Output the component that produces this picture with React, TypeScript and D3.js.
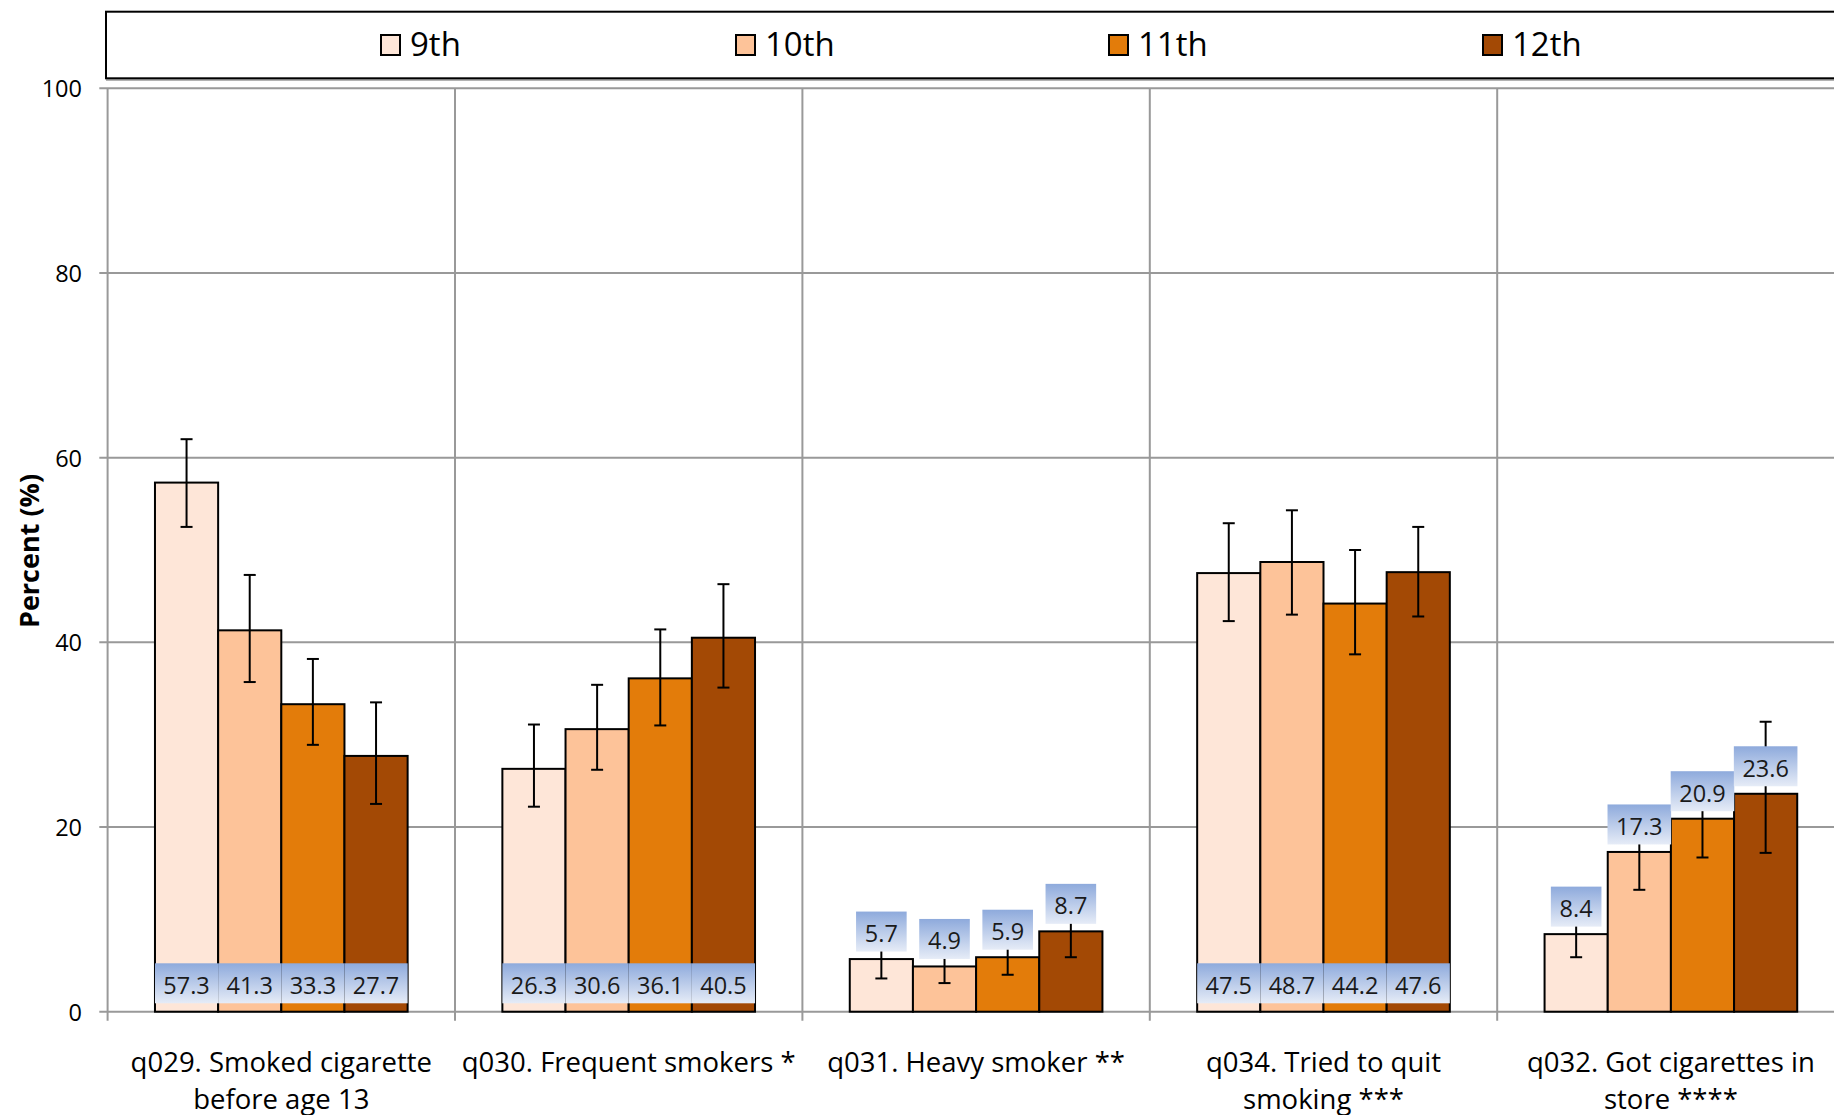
import React from "react";
import * as d3 from "d3";

const grades = ["9th", "10th", "11th", "12th"];
const categories = [
  "q029. Smoked cigarette\nbefore age 13",
  "q030. Frequent smokers *",
  "q031. Heavy smoker **",
  "q034. Tried to quit\nsmoking ***",
  "q032. Got cigarettes in\nstore ****",
];
const v9 = [57.3, 26.3, 5.7, 47.5, 8.4];
const v10 = [41.3, 30.6, 4.9, 48.7, 17.3];
const v11 = [33.3, 36.1, 5.9, 44.2, 20.9];
const v12 = [27.7, 40.5, 8.7, 47.6, 23.6];
const lo9 = [52.5, 22.2, 3.6, 42.3, 5.9];
const hi9 = [62.0, 31.1, 7.9, 52.9, 11.2];
const lo10 = [35.7, 26.2, 3.1, 43.0, 13.2];
const hi10 = [47.3, 35.4, 6.9, 54.3, 21.9];
const lo11 = [28.9, 31.0, 4.0, 38.7, 16.7];
const hi11 = [38.2, 41.4, 8.0, 50.0, 25.5];
const lo12 = [22.5, 35.1, 5.9, 42.8, 17.2];
const hi12 = [33.5, 46.3, 11.8, 52.5, 31.4];
const yTicks = [0, 20, 40, 60, 80, 100];
// label placement per category: "base" = inside base, "end" = outside end
const labelPlacement = ["base", "base", "end", "base", "end"];

const seriesValues = [v9, v10, v11, v12];
const seriesLo = [lo9, lo10, lo11, lo12];
const seriesHi = [hi9, hi10, hi11, hi12];

const W = 1834;
const H = 1115;
const colors = ["#FEE6D8", "#FDC399", "#E37C0A", "#A34905"];
const FONT = "'Open Sans', 'Noto Sans', sans-serif";
const legendX = [381, 736, 1109, 1483];

export default function App() {
  const plotLeft = 107.6;
  const band = 347.4;
  const y = d3.scaleLinear().domain([0, 100]).range([1011.7, 88.3]);
  const x0 = d3
    .scaleBand<string>()
    .domain(categories)
    .range([plotLeft, plotLeft + band * categories.length])
    .paddingInner(0)
    .paddingOuter(0);
  const bw = x0.bandwidth();
  const x1 = d3
    .scaleBand<string>()
    .domain(grades)
    .range([bw * (0.75 / 5.5), bw * (4.75 / 5.5)])
    .padding(0);
  const barW = x1.bandwidth();
  const yBase = y(0);

  const labelW = (s: string) => {
    const digits = s.replace(".", "").length;
    return digits * 13 + 6 + 18.6;
  };
  const labelH = 40;

  const boundaries = d3.range(categories.length + 1).map((i) => plotLeft + i * band);

  return (
    <svg
      width={W}
      height={H}
      style={{ position: "absolute", left: 0, top: 0, background: "#fff" }}
      fontFamily={FONT}
    >
      <defs>
        <linearGradient id="lblGrad" x1="0" y1="0" x2="0" y2="1">
          <stop offset="0" stopColor="#8EAADC" />
          <stop offset="1" stopColor="#E6ECF7" />
        </linearGradient>
      </defs>
      <rect x={0} y={0} width={W} height={H} fill="#fff" />

      {/* legend box */}
      <line x1={106} x2={W} y1={80} y2={80} stroke="#9a9a9a" strokeWidth={1.5} />
      <rect x={106} y={11.7} width={W} height={66.6} fill="#fff" stroke="#000" strokeWidth={2} />
      {grades.map((g, i) => (
        <g key={g}>
          <rect x={legendX[i]} y={35} width={19} height={20} fill={colors[i]} stroke="#000" strokeWidth={2} />
          <text x={legendX[i] + 29} y={43.5} fontSize={33} dominantBaseline="central" fill="#000">
            {g}
          </text>
        </g>
      ))}

      {/* horizontal gridlines */}
      {yTicks.map((t) => (
        <g key={t}>
          <line x1={99.3} x2={W} y1={y(t)} y2={y(t)} stroke="#999" strokeWidth={2} />
          <text x={82} y={y(t)} fontSize={23.5} textAnchor="end" dominantBaseline="central" fill="#000">
            {t}
          </text>
        </g>
      ))}
      {/* vertical gridlines / category ticks */}
      {boundaries.map((bx, i) => (
        <line key={i} x1={bx} x2={bx} y1={y(100)} y2={yBase + 9} stroke="#999" strokeWidth={2} />
      ))}

      {/* y-axis title */}
      <text
        transform={`translate(28,551) rotate(-90)`}
        fontSize={27}
        fontWeight="bold"
        textAnchor="middle"
        dominantBaseline="central"
        fill="#000"
      >
        Percent (%)
      </text>

      {/* bars */}
      {categories.map((c, ci) => (
        <g key={c} transform={`translate(${x0(c)},0)`}>
          {grades.map((g, gi) => {
            const v = seriesValues[gi][ci];
            return (
              <rect
                key={g}
                x={x1(g)}
                y={y(v)}
                width={barW}
                height={yBase - y(v)}
                fill={colors[gi]}
                stroke="#000"
                strokeWidth={2}
              />
            );
          })}
          {/* error bars */}
          {grades.map((g, gi) => {
            const cx = (x1(g) as number) + barW / 2;
            const lo = y(seriesLo[gi][ci]);
            const hi = y(seriesHi[gi][ci]);
            return (
              <g key={g} stroke="#000" strokeWidth={2}>
                <line x1={cx} x2={cx} y1={lo} y2={hi} />
                <line x1={cx - 6} x2={cx + 6} y1={lo} y2={lo} />
                <line x1={cx - 6} x2={cx + 6} y1={hi} y2={hi} />
              </g>
            );
          })}
          {/* data labels */}
          {grades.map((g, gi) => {
            const v = seriesValues[gi][ci];
            const s = v.toFixed(1);
            const cx = (x1(g) as number) + barW / 2;
            const w = labelPlacement[ci] === "base" ? barW : labelW(s);
            const bottom = labelPlacement[ci] === "base" ? yBase - 8.4 : y(v) - 7.5;
            return (
              <g key={g}>
                <rect x={cx - w / 2} y={bottom - labelH} width={w} height={labelH} fill="url(#lblGrad)" />
                <text
                  x={cx}
                  y={bottom - labelH / 2 + 1.5}
                  fontSize={23.5}
                  textAnchor="middle"
                  dominantBaseline="central"
                  fill="#1a1a1a"
                >
                  {s}
                </text>
              </g>
            );
          })}
        </g>
      ))}

      {/* category labels */}
      {categories.map((c) => {
        const cx = (x0(c) as number) + bw / 2;
        return (
          <text key={c} fontSize={27.5} textAnchor="middle" fill="#000">
            {c.split("\n").map((line, li) => (
              <tspan key={li} x={cx} y={1061 + li * 37.5} dominantBaseline="central">
                {line}
              </tspan>
            ))}
          </text>
        );
      })}
    </svg>
  );
}
